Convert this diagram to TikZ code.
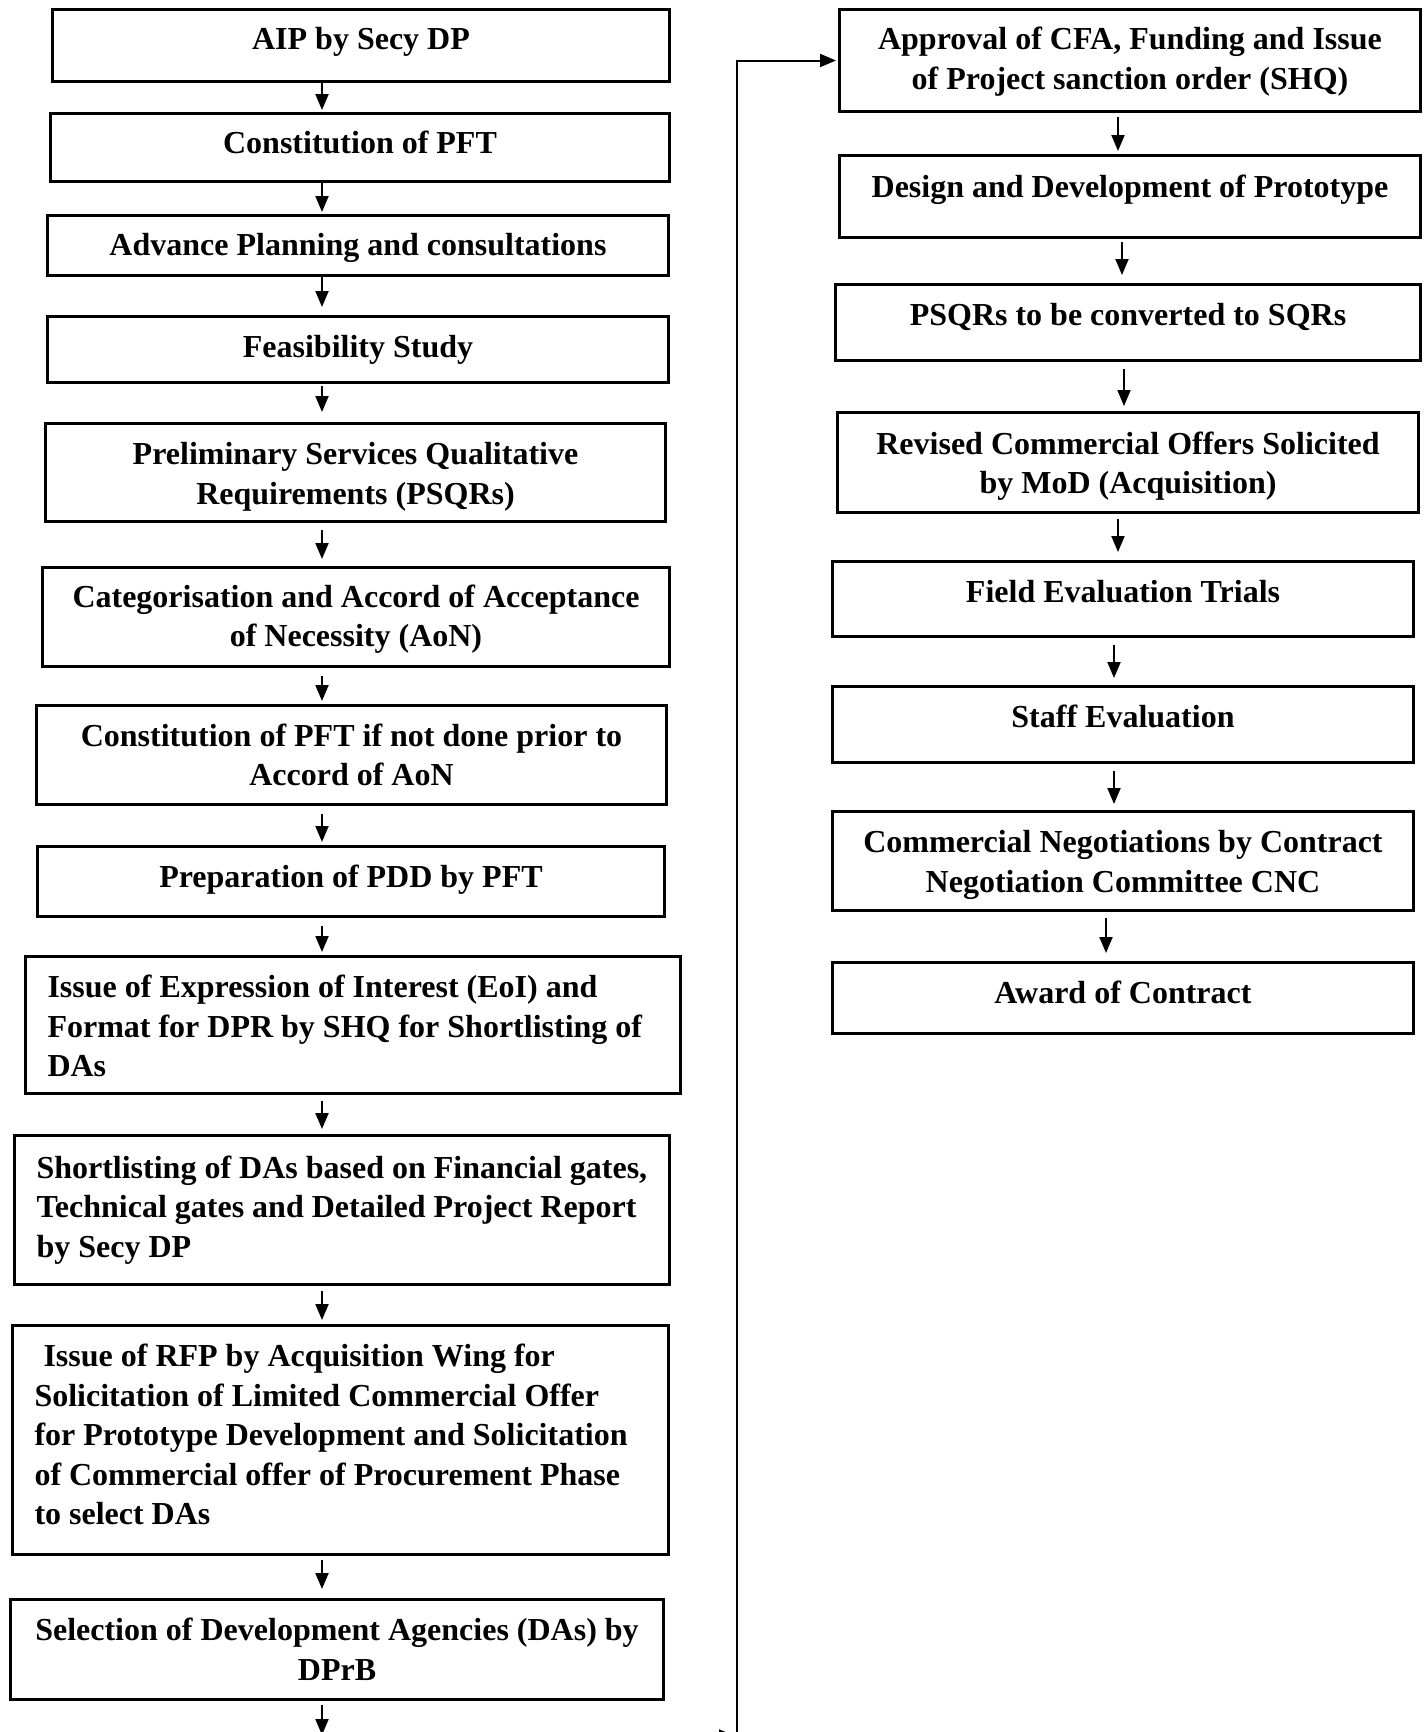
\documentclass[tikz,border=0pt]{standalone}
\usepackage{fontspec}
\setmainfont{Liberation Serif}
\usetikzlibrary{arrows.meta}
% shift text visually, keeping its box size for centring
\newcommand{\sh}[2]{\raisebox{#1}[\height][\depth]{#2}}
\newcommand{\tworow}[3]{\sh{#1}{\begin{tabular}{@{}c@{}}#2\\#3\end{tabular}}}
\newcommand{\lpar}[3]{\sh{#2}{\parbox{#1}{\raggedright #3}}}
\begin{document}
\begin{tikzpicture}[x=1pt,y=-1pt,
  box/.style={draw, line width=3pt, rectangle, inner sep=0pt, anchor=north west,
    align=center, font=\bfseries\fontsize{32}{39.5}\selectfont},
  arr/.style={line width=2pt, -{Triangle[length=16pt,width=13pt]}},
  sg/.style 2 args={shorten <=#1pt, shorten >=#2pt}]
\useasboundingbox (0,0) rectangle (1427,1732);
\clip (0,0) rectangle (1427,1732);
\fill[white] (0,0) rectangle (1427,1732);

% left column
\node[box, minimum width=617pt, minimum height=72pt] (L1) at (51,8) {\sh{3.3pt}{AIP by Secy DP}};
\node[box, minimum width=619pt, minimum height=68pt] (L2) at (49,112) {\sh{5.5pt}{Constitution of PFT}};
\node[box, minimum width=621pt, minimum height=60pt] (L3) at (46,214) {\sh{-2pt}{Advance Planning and consultations}};
\node[box, minimum width=621pt, minimum height=66pt] (L4) at (46,315) {Feasibility Study};
\node[box, minimum width=620pt, minimum height=98pt] (L5) at (44,422) {\tworow{-4pt}{Preliminary Services Qualitative}{Requirements (PSQRs)}};
\node[box, minimum width=627pt, minimum height=99pt] (L6) at (41,566) {\tworow{-2pt}{Categorisation and Accord of Acceptance}{of Necessity (AoN)}};
\node[box, minimum width=630pt, minimum height=99pt] (L7) at (35,704) {Constitution of PFT if not done prior to\\Accord of AoN};
\node[box, minimum width=627pt, minimum height=70pt] (L8) at (36,845) {\sh{2pt}{Preparation of PDD by PFT}};
\node[box, minimum width=655pt, minimum height=137pt] (L9) at (24,955) {\lpar{611pt}{-1pt}{\mbox{Issue of Expression of Interest (EoI) and}\\\mbox{Format for DPR by SHQ for Shortlisting of}\\\mbox{DAs}}};
\node[box, minimum width=655pt, minimum height=149pt] (L10) at (13,1134) {\lpar{611pt}{0pt}{\mbox{Shortlisting of DAs based on Financial gates,}\\\mbox{Technical gates and Detailed Project Report}\\\mbox{by Secy DP}}};
\node[box, minimum width=656pt, minimum height=229pt] (L11) at (11,1324) {\lpar{612pt}{5.5pt}{\mbox{\hspace*{9pt}Issue of RFP by Acquisition Wing for}\\\mbox{Solicitation of Limited Commercial Offer}\\\mbox{for Prototype Development and Solicitation}\\\mbox{of Commercial offer of Procurement Phase}\\\mbox{to select DAs}}};
\node[box, minimum width=653pt, minimum height=100pt] (L12) at (9,1598) {Selection of Development Agencies (DAs) by\\DPrB};

% right column
\node[box, minimum width=581pt, minimum height=102pt] (R1) at (838,8) {\tworow{-1pt}{Approval of CFA, Funding and Issue}{of Project sanction order (SHQ)}};
\node[box, minimum width=581pt, minimum height=82pt] (R2) at (838,154) {\sh{6.5pt}{Design and Development of Prototype}};
\node[box, minimum width=585pt, minimum height=76pt] (R3) at (834,283) {\sh{5.5pt}{PSQRs to be converted to SQRs}};
\node[box, minimum width=581pt, minimum height=100pt] (R4) at (836,411) {\tworow{-3.5pt}{Revised Commercial Offers Solicited}{by MoD (Acquisition)}};
\node[box, minimum width=581pt, minimum height=75pt] (R5) at (831,560) {\sh{7.5pt}{Field Evaluation Trials}};
\node[box, minimum width=581pt, minimum height=76pt] (R6) at (831,685) {\sh{8.5pt}{Staff Evaluation}};
\node[box, minimum width=581pt, minimum height=99pt] (R7) at (831,810) {\tworow{-3.5pt}{Commercial Negotiations by Contract}{Negotiation Committee CNC}};
\node[box, minimum width=581pt, minimum height=71pt] (R8) at (831,961) {\sh{5.5pt}{Award of Contract}};

% column coordinates
\coordinate (cL) at (322,0);
\coordinate (a1) at (1118,0);
\coordinate (a2) at (1122,0);
\coordinate (a3) at (1124,0);
\coordinate (a4) at (1118,0);
\coordinate (a5) at (1114,0);
\coordinate (a6) at (1114,0);
\coordinate (a7) at (1106,0);
\coordinate (endL) at (322,1735);
\coordinate (bot) at (737,1740);
\coordinate (tipA) at (712,1736);
\coordinate (tipB) at (735,1736);

% left arrows
\draw[arr, sg={0}{2}] (L1.south -| cL) -- (L2.north -| cL);
\draw[arr, sg={0}{2}] (L2.south -| cL) -- (L3.north -| cL);
\draw[arr, sg={0}{8}] (L3.south -| cL) -- (L4.north -| cL);
\draw[arr, sg={2}{10}] (L4.south -| cL) -- (L5.north -| cL);
\draw[arr, sg={7}{7}] (L5.south -| cL) -- (L6.north -| cL);
\draw[arr, sg={8}{3}] (L6.south -| cL) -- (L7.north -| cL);
\draw[arr, sg={8}{3}] (L7.south -| cL) -- (L8.north -| cL);
\draw[arr, sg={8}{3}] (L8.south -| cL) -- (L9.north -| cL);
\draw[arr, sg={6}{5}] (L9.south -| cL) -- (L10.north -| cL);
\draw[arr, sg={5}{4}] (L10.south -| cL) -- (L11.north -| cL);
\draw[arr, sg={4}{9}] (L11.south -| cL) -- (L12.north -| cL);
\draw[arr, sg={4}{0}] (L12.south -| cL) -- (endL);

% right arrows
\draw[arr, sg={4}{3}] (R1.south -| a1) -- (R2.north -| a1);
\draw[arr, sg={3}{8}] (R2.south -| a2) -- (R3.north -| a2);
\draw[arr, sg={7}{5}] (R3.south -| a3) -- (R4.north -| a3);
\draw[arr, sg={5}{8}] (R4.south -| a4) -- (R5.north -| a4);
\draw[arr, sg={7}{7}] (R5.south -| a5) -- (R6.north -| a5);
\draw[arr, sg={7}{6}] (R6.south -| a6) -- (R7.north -| a6);
\draw[arr, sg={6}{8}] (R7.south -| a7) -- (R8.north -| a7);

% link from bottom to top right
\draw[arr, shorten >=2pt] (bot) |- (R1.west);
\draw[arr] (tipA) -- (tipB);
\end{tikzpicture}
\end{document}
